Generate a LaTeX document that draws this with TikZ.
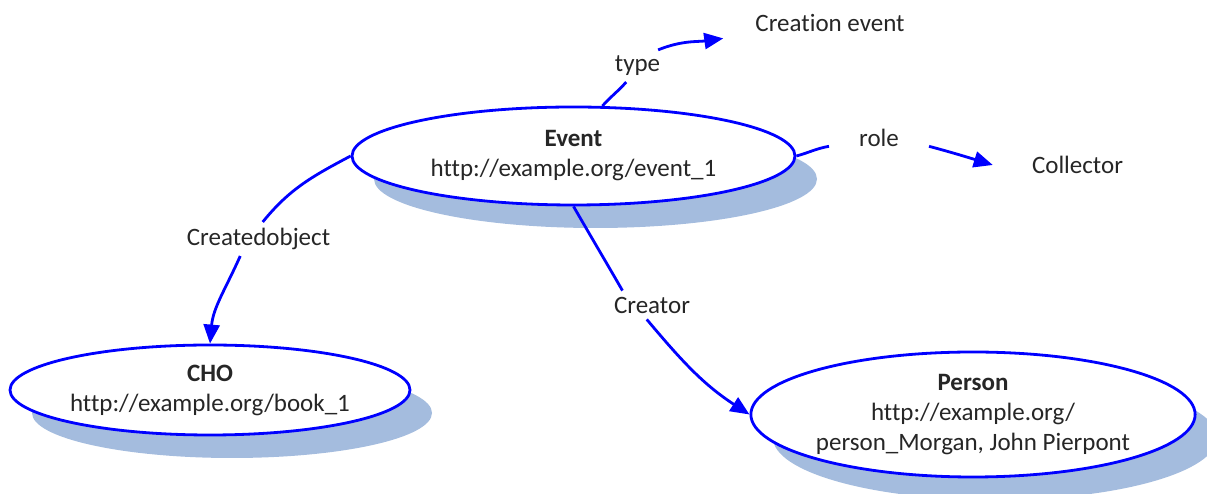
\documentclass[tikz,border=0pt]{standalone}
\usepackage{fontspec}
\setmainfont{Carlito}[Ligatures={NoCommon,NoRequired,NoContextual}]
\usetikzlibrary{shapes.geometric,shadows,arrows.meta}
\definecolor{conceptblue}{RGB}{0,0,255}
\definecolor{shadowblue}{RGB}{164,188,222}
\definecolor{textgrey}{RGB}{38,38,38}

\begin{document}
\begin{tikzpicture}[x=1pt,y=1pt,
        font=\fontsize{25}{30}\selectfont, text=textgrey,
        concept/.style={ellipse, draw=conceptblue, line width=2.8pt, fill=white, inner sep=0pt, align=center,
            drop shadow={shadow xshift=22pt, shadow yshift=-23pt, fill=shadowblue, opacity=1}},
        link/.style={draw=conceptblue, line width=2.8pt},
        linkto/.style={link, -{Triangle[length=19pt,width=16pt]}},
        lbl/.style={inner sep=6pt}]
        \useasboundingbox (0,0) rectangle (1207,494);
        % concepts
        \node[concept, minimum width=443pt, minimum height=98pt] (event) at(573.5,338){\textbf{Event}\\http://example.org/event\_1};
        \node[concept, minimum width=400pt, minimum height=90pt] (cho) at(210,104){\textbf{CHO}\\http://example.org/book\_1};
        \node[concept, minimum width=442pt, minimum height=125pt] (person) at(973,79.5){\textbf{Person}\\http://example.org/\\person\_Morgan, John Pierpont};
        \node[lbl, inner xsep=32pt] (creation) at(830,470.5){Creation event};
        \node[lbl, inner xsep=39pt] (collector) at(1077.5,329){Collector};
        % link labels
        \node[lbl] (typeL) at(637.5,428){type};
        \node[lbl, inner xsep=30pt] (roleL) at(879,356.5){role};
        \node[lbl] (createdL) at(258.5,255){Createdobject};
        \node[lbl] (creatorL) at(652,189){Creator};
        % links
        \draw[link] (event.60) to[out=48,in=228] (typeL.235);
        \draw[linkto] (typeL.38) to[out=22,in=188] (creation.south west);
        \draw[link] (event.east) to[out=15,in=190] (roleL.190);
        \draw[linkto] (roleL.-10) to[out=-15,in=163] (collector.west);
        \draw[link] (event.west) to[out=208,in=51] (createdL.76);
        \draw[linkto] (createdL.223) to[out=246,in=85] (cho.north);
        \draw[link] (event.south) to[out=-60,in=120] (creatorL.154);
        \draw[linkto] (creatorL.250) to[out=-50,in=147] (person.west);
    \end{tikzpicture}
\end{document}
